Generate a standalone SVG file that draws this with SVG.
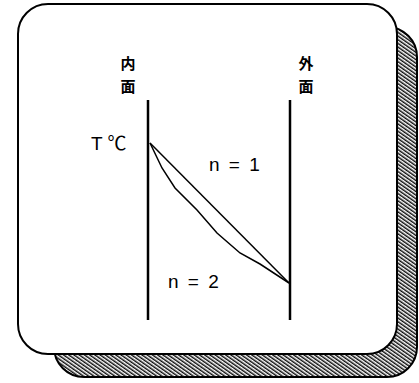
<svg xmlns="http://www.w3.org/2000/svg" width="419" height="383" viewBox="0 0 419 383">
<style>
.t{font-family:"Liberation Sans","Noto Sans CJK JP",sans-serif;fill:#000}
.cj{font-family:"Noto Sans CJK JP",sans-serif;font-weight:bold;font-size:15px;fill:#000}
.ln{stroke:#000;fill:none}
</style>
<defs>
<pattern id="hatch" width="3" height="3" patternUnits="userSpaceOnUse" patternTransform="rotate(-55)">
<rect x="0" y="0" width="3" height="3" fill="#fff"/>
<line x1="0.75" y1="0" x2="0.75" y2="3" stroke="#000" stroke-width="1.4"/>
</pattern>
</defs>
<rect x="0" y="0" width="419" height="383" fill="#fff"/>
<g id="shadow">
<rect x="54" y="27" width="363" height="350" rx="30" fill="url(#hatch)" stroke="#000" stroke-width="2"/>
</g>
<g id="panel">
<rect x="18" y="4" width="379" height="350" rx="30" fill="#fff" stroke="#000" stroke-width="2"/>
</g>
<g id="inner-wall">
<line class="ln" x1="148" y1="100" x2="148" y2="320" stroke-width="2.5"/>
<text class="cj" x="128" y="69" text-anchor="middle">内</text>
<text class="cj" x="128" y="92" text-anchor="middle">面</text>
</g>
<g id="outer-wall">
<line class="ln" x1="290" y1="100" x2="290" y2="320" stroke-width="2.5"/>
<text class="cj" x="306" y="69" text-anchor="middle">外</text>
<text class="cj" x="306" y="92" text-anchor="middle">面</text>
</g>
<g id="labels">
<text class="t" x="91" y="150" font-size="19" font-family="Liberation Serif">T ℃</text>
<text class="t" x="209" y="171" font-size="19" letter-spacing="2">n = 1</text>
<text class="t" x="168" y="288" font-size="19" letter-spacing="2">n = 2</text>
</g>
<g id="connectors">
<line class="ln" x1="150" y1="143" x2="289" y2="283" stroke-width="1.5"/>
<path class="ln" d="M150,143 L162,168 L175,188 L197,210 L217,233 L240,253 L260,264 L289,283" stroke-width="1.5"/>
</g>
</svg>
